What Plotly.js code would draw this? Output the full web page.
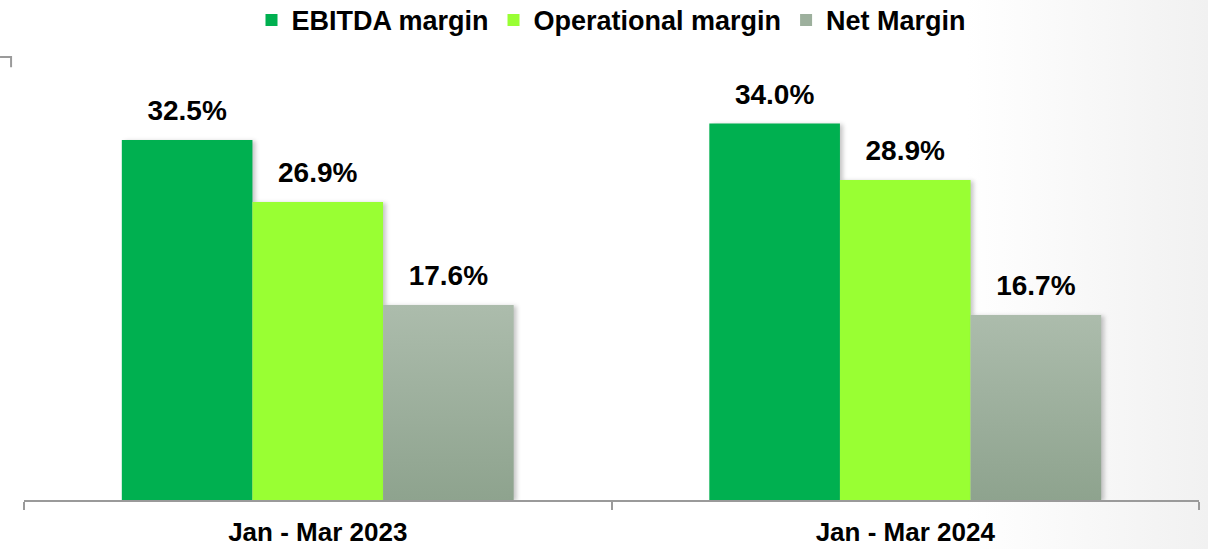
<!DOCTYPE html>
<html>
<head>
<meta charset="utf-8">
<script src="https://cdn.plot.ly/plotly-3.0.1.min.js"></script>
<style>
  html, body { margin: 0; padding: 0; }
  body { width: 1208px; height: 549px; background: linear-gradient(to right, #ffffff 0%, #ffffff 80%, #f1f1f1 100%); }
  #chart { width: 1208px; height: 549px; }
  .js-plotly-plot .barlayer .point path { filter: drop-shadow(3px 1px 2px rgba(0,0,0,0.22)); }
</style>
</head>
<body>
<div id="chart"></div>
<script>
const categories = ["Jan - Mar 2023", "Jan - Mar 2024"];
const seriesNames = ["EBITDA margin", "Operational margin", "Net Margin"];
const ebitdaMargin = [32.5, 34.0];
const operationalMargin = [26.9, 28.9];
const netMargin = [17.6, 16.7];
const seriesValues = [ebitdaMargin, operationalMargin, netMargin];
const seriesColors = ["#00b050", "#99ff33", "#9db09d"];

const fontFamily = "'Liberation Sans', Arial, sans-serif";

const traces = [];
seriesValues.forEach((vals, i) => {
  traces.push({
    type: "bar",
    name: seriesNames[i],
    x: categories,
    y: vals,
    offsetgroup: String(i),
    marker: { color: seriesColors[i], line: { width: 0 } },
    hoverinfo: "skip"
  });
});
seriesValues.forEach((vals, i) => {
  traces.push({
    type: "scatter",
    mode: "markers+text",
    orientation: "v",
    x: categories,
    y: vals,
    offsetgroup: String(i),
    text: vals.map(v => v.toFixed(1) + "%"),
    textposition: "top center",
    textfont: { family: fontFamily, size: 28, color: "#000000", weight: "bold" },
    marker: { size: 19, opacity: 0 },
    showlegend: false,
    hoverinfo: "skip",
    cliponaxis: false
  });
});

const layout = {
  width: 1208,
  height: 549,
  margin: { l: 24, r: 9, t: 57, b: 49, autoexpand: false },
  paper_bgcolor: "rgba(0,0,0,0)",
  plot_bgcolor: "rgba(0,0,0,0)",
  barmode: "group",
  bargap: 0.333,
  bargroupgap: 0,
  scattermode: "group",
  scattergap: 0.333,
  showlegend: true,
  legend: {
    orientation: "h",
    xref: "paper",
    x: 0.5,
    xanchor: "center",
    yref: "paper",
    y: 1.138,
    yanchor: "top",
    font: { family: fontFamily, size: 27, color: "#000000", weight: "bold" },
    bgcolor: "rgba(0,0,0,0)",
    itemclick: false
  },
  xaxis: {
    type: "category",
    automargin: false,
    showline: true,
    linecolor: "#9a9a9a",
    linewidth: 2,
    ticks: "outside",
    tickson: "boundaries",
    ticklen: 8,
    tickwidth: 2,
    tickcolor: "#9a9a9a",
    ticklabelstandoff: 8,
    tickfont: { family: fontFamily, size: 26, color: "#000000", weight: "bold" },
    showgrid: false,
    zeroline: false,
    fixedrange: true
  },
  yaxis: {
    range: [0, 40],
    visible: false,
    showgrid: false,
    zeroline: false,
    fixedrange: true
  },
  shapes: [
    {
      type: "path",
      xref: "paper", yref: "paper",
      path: "M -0.0204,1 L -0.011,1 L -0.011,0.977",
      line: { color: "#9a9a9a", width: 2 }
    }
  ]
};

function applyGradient(gd) {
  const svg = gd.querySelector(".main-svg");
  if (!svg) return;
  let defs = svg.querySelector("defs");
  if (!defs) { defs = document.createElementNS("http://www.w3.org/2000/svg", "defs"); svg.insertBefore(defs, svg.firstChild); }
  if (!svg.querySelector("#netgrad")) {
    const lg = document.createElementNS("http://www.w3.org/2000/svg", "linearGradient");
    lg.setAttribute("id", "netgrad");
    lg.setAttribute("x1", "0"); lg.setAttribute("y1", "0");
    lg.setAttribute("x2", "0"); lg.setAttribute("y2", "1");
    [["0", "#acbcac"], ["1", "#8ea38e"]].forEach(([o, c]) => {
      const st = document.createElementNS("http://www.w3.org/2000/svg", "stop");
      st.setAttribute("offset", o); st.setAttribute("stop-color", c);
      lg.appendChild(st);
    });
    defs.appendChild(lg);
  }
  const barTraces = gd.querySelectorAll(".barlayer .trace.bars");
  if (barTraces.length >= 3) {
    barTraces[2].querySelectorAll(".point path").forEach(p => { p.style.fill = "url(#netgrad)"; });
  }
}

Plotly.newPlot("chart", traces, layout, { displayModeBar: false, staticPlot: true }).then(gd => {
  applyGradient(gd);
  gd.on("plotly_afterplot", () => applyGradient(gd));
});
</script>
</body>
</html>
